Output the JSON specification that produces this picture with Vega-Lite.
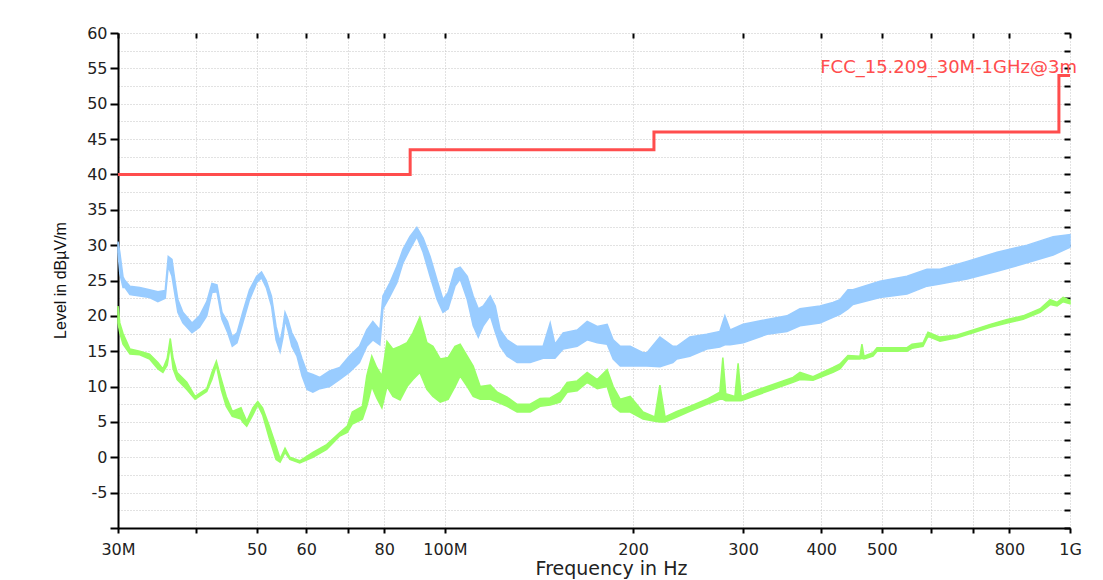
{
  "$schema": "https://vega.github.io/schema/vega-lite/v6.json",
  "width": 952,
  "height": 495,
  "autosize": "none",
  "padding": {"left": 118, "top": 33, "right": 33, "bottom": 52},
  "background": "white",
  "config": {"view": {"stroke": null}, "font": "DejaVu Sans"},
  "datasets": {
    "peak": [
      {"f": 30, "lo": 29, "hi": 30.5}, {"f": 30.2, "lo": 26, "hi": 29}, {"f": 30.56, "lo": 24, "hi": 25.5},
      {"f": 30.78, "lo": 24, "hi": 25}, {"f": 31.35, "lo": 23, "hi": 24.2}, {"f": 32.5, "lo": 22.8, "hi": 24},
      {"f": 33.7, "lo": 22.6, "hi": 23.7}, {"f": 34.75, "lo": 22, "hi": 23.4}, {"f": 35.7, "lo": 22.5, "hi": 23.6},
      {"f": 36.1, "lo": 27, "hi": 28.4}, {"f": 36.6, "lo": 25.6, "hi": 28}, {"f": 37.0, "lo": 23, "hi": 25},
      {"f": 37.4, "lo": 20.5, "hi": 22.3}, {"f": 38.1, "lo": 19, "hi": 20.5}, {"f": 39.4, "lo": 17.6, "hi": 19},
      {"f": 40.5, "lo": 18.4, "hi": 20}, {"f": 41.6, "lo": 20, "hi": 22}, {"f": 42.4, "lo": 23.3, "hi": 24.6},
      {"f": 43.2, "lo": 23.4, "hi": 24.4}, {"f": 44.0, "lo": 19.5, "hi": 20.5}, {"f": 44.9, "lo": 17.7, "hi": 19.2},
      {"f": 45.7, "lo": 15.7, "hi": 17}, {"f": 46.5, "lo": 16.2, "hi": 17.6}, {"f": 47.5, "lo": 19, "hi": 20.5},
      {"f": 48.7, "lo": 22.3, "hi": 23.7}, {"f": 50.0, "lo": 24.7, "hi": 25.6}, {"f": 50.9, "lo": 25.4, "hi": 26.2},
      {"f": 51.8, "lo": 24, "hi": 25}, {"f": 52.8, "lo": 21.4, "hi": 22.8}, {"f": 53.7, "lo": 16.6, "hi": 18.5},
      {"f": 54.5, "lo": 14.9, "hi": 16.3}, {"f": 55.1, "lo": 17, "hi": 18.5}, {"f": 55.5, "lo": 19.5, "hi": 20.5},
      {"f": 56.1, "lo": 18, "hi": 19.5}, {"f": 56.9, "lo": 15.7, "hi": 17.6}, {"f": 58.0, "lo": 14.3, "hi": 16.2},
      {"f": 59.1, "lo": 11.5, "hi": 13.9}, {"f": 60.2, "lo": 9.6, "hi": 12}, {"f": 61.5, "lo": 9.2, "hi": 11.7},
      {"f": 63.1, "lo": 9.7, "hi": 11.3}, {"f": 65.4, "lo": 10, "hi": 12.2}, {"f": 67.9, "lo": 11, "hi": 12.7},
      {"f": 70.3, "lo": 12, "hi": 14.3}, {"f": 73.0, "lo": 13.4, "hi": 15.7}, {"f": 75.0, "lo": 15.7, "hi": 18},
      {"f": 76.7, "lo": 16.6, "hi": 19.2}, {"f": 78.7, "lo": 15.9, "hi": 18}, {"f": 79.6, "lo": 21, "hi": 22.8},
      {"f": 81.7, "lo": 22.8, "hi": 24.7}, {"f": 83.8, "lo": 24.7, "hi": 27}, {"f": 85.7, "lo": 27.5, "hi": 29.4},
      {"f": 87.9, "lo": 29.4, "hi": 31.2}, {"f": 90.2, "lo": 31.2, "hi": 32.5}, {"f": 92.3, "lo": 29, "hi": 31},
      {"f": 94.7, "lo": 25.6, "hi": 28.4}, {"f": 97.2, "lo": 22.3, "hi": 25}, {"f": 99.3, "lo": 20.5, "hi": 22.3},
      {"f": 101.2, "lo": 21, "hi": 23.3}, {"f": 103.8, "lo": 24.2, "hi": 26.6}, {"f": 105.8, "lo": 25.2, "hi": 26.9},
      {"f": 108.6, "lo": 22.3, "hi": 25.6}, {"f": 111.0, "lo": 18.6, "hi": 22.8}, {"f": 113.1, "lo": 17, "hi": 21},
      {"f": 115.2, "lo": 18.6, "hi": 21.4}, {"f": 118.2, "lo": 20, "hi": 22.8}, {"f": 120.4, "lo": 17.7, "hi": 21.4},
      {"f": 122.6, "lo": 15.7, "hi": 18}, {"f": 125.8, "lo": 14.3, "hi": 16.6}, {"f": 130.5, "lo": 13.4, "hi": 15.7},
      {"f": 136.9, "lo": 13.4, "hi": 15.7}, {"f": 143.6, "lo": 14, "hi": 15.7}, {"f": 147.4, "lo": 14, "hi": 19},
      {"f": 150.0, "lo": 14, "hi": 16}, {"f": 154.6, "lo": 15.3, "hi": 17.6}, {"f": 162.8, "lo": 15.7, "hi": 18},
      {"f": 168.9, "lo": 16.6, "hi": 19.2}, {"f": 175.3, "lo": 16.2, "hi": 18.5}, {"f": 181.8, "lo": 16, "hi": 18.8},
      {"f": 185.9, "lo": 13.9, "hi": 16.6}, {"f": 190.8, "lo": 12.9, "hi": 15.7}, {"f": 197.9, "lo": 12.9, "hi": 15.7},
      {"f": 207.5, "lo": 12.9, "hi": 14.8}, {"f": 210.5, "lo": 12.9, "hi": 14.8}, {"f": 220.8, "lo": 12.8, "hi": 17},
      {"f": 231.6, "lo": 13.4, "hi": 15.7}, {"f": 235.0, "lo": 13.9, "hi": 15.7}, {"f": 246.5, "lo": 14.3, "hi": 17},
      {"f": 262.4, "lo": 15.3, "hi": 17.4}, {"f": 275.3, "lo": 15.6, "hi": 17.8}, {"f": 280.5, "lo": 15.9, "hi": 20},
      {"f": 286.0, "lo": 15.9, "hi": 18}, {"f": 300, "lo": 16.2, "hi": 18.8}, {"f": 327.7, "lo": 17.4, "hi": 19.5},
      {"f": 352.6, "lo": 17.8, "hi": 20}, {"f": 369.9, "lo": 18.6, "hi": 21}, {"f": 398.2, "lo": 19, "hi": 21.4},
      {"f": 417.7, "lo": 19.8, "hi": 21.9}, {"f": 428.6, "lo": 20.2, "hi": 22.3}, {"f": 441.4, "lo": 21, "hi": 23.7},
      {"f": 449.5, "lo": 21.6, "hi": 23.7}, {"f": 496.6, "lo": 22.6, "hi": 24.9}, {"f": 548.6, "lo": 23.1, "hi": 25.6},
      {"f": 590.5, "lo": 24.2, "hi": 26.6}, {"f": 619.5, "lo": 24.5, "hi": 26.6}, {"f": 684.5, "lo": 25.2, "hi": 27.7},
      {"f": 764.6, "lo": 26.3, "hi": 29}, {"f": 853.9, "lo": 27.5, "hi": 30}, {"f": 939.8, "lo": 28.6, "hi": 31.2},
      {"f": 1000, "lo": 29.7, "hi": 31.5}
    ],
    "avg": [
      {"f": 30, "lo": 19, "hi": 21.4}, {"f": 30.2, "lo": 17.6, "hi": 19}, {"f": 30.56, "lo": 16, "hi": 17.5},
      {"f": 31.35, "lo": 14.6, "hi": 15.3}, {"f": 32.5, "lo": 14.5, "hi": 15}, {"f": 33.7, "lo": 13.9, "hi": 14.6},
      {"f": 34.75, "lo": 12.5, "hi": 13.4}, {"f": 35.4, "lo": 12, "hi": 12.5}, {"f": 35.96, "lo": 13, "hi": 14},
      {"f": 36.37, "lo": 15.7, "hi": 16.8}, {"f": 36.75, "lo": 12.5, "hi": 14}, {"f": 37.3, "lo": 11, "hi": 12},
      {"f": 38.65, "lo": 9.6, "hi": 10.6}, {"f": 39.85, "lo": 8.2, "hi": 8.6}, {"f": 41.6, "lo": 9.3, "hi": 9.7},
      {"f": 42.4, "lo": 11, "hi": 12}, {"f": 43.1, "lo": 13, "hi": 13.6}, {"f": 43.9, "lo": 9.5, "hi": 11},
      {"f": 44.7, "lo": 7.2, "hi": 8.6}, {"f": 45.7, "lo": 5.8, "hi": 6.5}, {"f": 47.2, "lo": 5.4, "hi": 7},
      {"f": 47.5, "lo": 5, "hi": 6.4}, {"f": 48.2, "lo": 4.4, "hi": 5.1}, {"f": 49.3, "lo": 6, "hi": 7},
      {"f": 50.2, "lo": 7.4, "hi": 7.9}, {"f": 51.1, "lo": 6, "hi": 7}, {"f": 52.4, "lo": 2.6, "hi": 4.4},
      {"f": 53.7, "lo": -0.3, "hi": 1.6}, {"f": 54.5, "lo": -0.7, "hi": -0.2}, {"f": 55.5, "lo": 0.7, "hi": 1.3},
      {"f": 56.5, "lo": -0.3, "hi": 0}, {"f": 58.6, "lo": -0.8, "hi": -0.5}, {"f": 61.5, "lo": 0, "hi": 0.7},
      {"f": 64.7, "lo": 1.1, "hi": 1.8}, {"f": 67.9, "lo": 3, "hi": 3.5}, {"f": 69.8, "lo": 3.5, "hi": 4.4},
      {"f": 71.1, "lo": 4.7, "hi": 6.4}, {"f": 73.8, "lo": 5.4, "hi": 7.2}, {"f": 75.0, "lo": 7.2, "hi": 11.5},
      {"f": 76.4, "lo": 10, "hi": 14.3}, {"f": 77.8, "lo": 8.4, "hi": 12.7}, {"f": 79.3, "lo": 7, "hi": 11.5},
      {"f": 80.8, "lo": 10, "hi": 16.4}, {"f": 82.6, "lo": 8.6, "hi": 15.3}, {"f": 84.8, "lo": 8.1, "hi": 15.7},
      {"f": 87.0, "lo": 10, "hi": 16.2}, {"f": 88.9, "lo": 11, "hi": 17.6}, {"f": 91.2, "lo": 12, "hi": 19.8},
      {"f": 93.6, "lo": 9.6, "hi": 16.2}, {"f": 95.7, "lo": 8.6, "hi": 15.7}, {"f": 98.3, "lo": 7.8, "hi": 13.9},
      {"f": 101.2, "lo": 8.2, "hi": 14.1}, {"f": 103.8, "lo": 10, "hi": 15.7}, {"f": 105.8, "lo": 11.5, "hi": 16},
      {"f": 108.6, "lo": 10, "hi": 14.3}, {"f": 111.0, "lo": 8.6, "hi": 12.9}, {"f": 113.9, "lo": 8.2, "hi": 10},
      {"f": 118.2, "lo": 8.2, "hi": 10.2}, {"f": 121.3, "lo": 7.8, "hi": 9.2}, {"f": 125.8, "lo": 7.2, "hi": 8.5},
      {"f": 130.5, "lo": 6.4, "hi": 7.5}, {"f": 136.9, "lo": 6.4, "hi": 7.5}, {"f": 142.0, "lo": 7.2, "hi": 8.3},
      {"f": 147.4, "lo": 7.4, "hi": 8.4}, {"f": 152.9, "lo": 7.8, "hi": 9.2}, {"f": 156.9, "lo": 9.2, "hi": 10.6},
      {"f": 162.8, "lo": 9.4, "hi": 10.8}, {"f": 168.9, "lo": 10.6, "hi": 12}, {"f": 175.3, "lo": 9.7, "hi": 11},
      {"f": 181.8, "lo": 10, "hi": 12.4}, {"f": 185.9, "lo": 7.2, "hi": 10}, {"f": 190.8, "lo": 6.4, "hi": 8.2},
      {"f": 197.9, "lo": 6.4, "hi": 8.6}, {"f": 207.5, "lo": 5.4, "hi": 6.4}, {"f": 216.7, "lo": 5.1, "hi": 5.7},
      {"f": 220.8, "lo": 5, "hi": 10.2}, {"f": 225.0, "lo": 5, "hi": 5.7}, {"f": 235.0, "lo": 5.7, "hi": 6.5},
      {"f": 246.5, "lo": 6.5, "hi": 7.2}, {"f": 262.4, "lo": 7.5, "hi": 8.2}, {"f": 275.3, "lo": 8.2, "hi": 9.2},
      {"f": 278.4, "lo": 8.2, "hi": 14.1}, {"f": 281.4, "lo": 8, "hi": 9}, {"f": 291.0, "lo": 8, "hi": 8.6},
      {"f": 294.5, "lo": 8, "hi": 13.3}, {"f": 297.8, "lo": 8, "hi": 8.6}, {"f": 311.2, "lo": 8.6, "hi": 9.3},
      {"f": 334.9, "lo": 9.6, "hi": 10.3}, {"f": 360.5, "lo": 10.6, "hi": 11.3}, {"f": 369.9, "lo": 11, "hi": 12},
      {"f": 388.1, "lo": 10.9, "hi": 11.4}, {"f": 417.7, "lo": 12, "hi": 12.7}, {"f": 428.6, "lo": 12.5, "hi": 13.2},
      {"f": 441.4, "lo": 13.9, "hi": 14.4}, {"f": 461.3, "lo": 13.9, "hi": 14.3}, {"f": 464.7, "lo": 14, "hi": 16},
      {"f": 468.2, "lo": 13.9, "hi": 14.3}, {"f": 484.0, "lo": 14.3, "hi": 14.8}, {"f": 491.2, "lo": 15, "hi": 15.5},
      {"f": 548.6, "lo": 15, "hi": 15.5}, {"f": 558.8, "lo": 15.4, "hi": 16}, {"f": 581.9, "lo": 15.7, "hi": 16.2},
      {"f": 592.7, "lo": 17.1, "hi": 17.7}, {"f": 619.5, "lo": 16.4, "hi": 17}, {"f": 659.8, "lo": 16.9, "hi": 17.3},
      {"f": 699.8, "lo": 17.6, "hi": 18}, {"f": 745.2, "lo": 18.4, "hi": 18.8}, {"f": 793.3, "lo": 19, "hi": 19.5},
      {"f": 841.4, "lo": 19.5, "hi": 20}, {"f": 895.8, "lo": 20.5, "hi": 21}, {"f": 929.5, "lo": 21.6, "hi": 22.3},
      {"f": 953.7, "lo": 21.4, "hi": 21.9}, {"f": 975.0, "lo": 22, "hi": 22.6}, {"f": 1000, "lo": 21.7, "hi": 22.2}
    ],
    "limit": [
      {"f": 30, "v": 40}, {"f": 88, "v": 43.5}, {"f": 216, "v": 46}, {"f": 960, "v": 54}, {"f": 1000, "v": 54}
    ],
    "limitLabel": [
      {"f": 1000, "v": 55, "label": "FCC_15.209_30M-1GHz@3m"}
    ]
  },
  "resolve": {"axis": {"x": "independent", "y": "independent"}},
  "layer": [
    {
      "data": {"name": "peak"},
      "mark": {"type": "area", "color": "#99ccff", "stroke": "#99ccff", "strokeWidth": 1.5, "opacity": 1},
      "encoding": {
        "x": {
          "field": "f", "type": "quantitative",
          "scale": {"type": "log", "domain": [30, 1000], "nice": false},
          "axis": {
            "values": [30, 40, 50, 60, 70, 80, 100, 200, 300, 400, 500, 600, 700, 800, 1000],
            "labelExpr": "datum.value == 30 ? '30M' : datum.value == 100 ? '100M' : datum.value == 1000 ? '1G' : (datum.value == 40 || datum.value == 70 || datum.value == 600 || datum.value == 700) ? '' : '' + datum.value",
            "labelOverlap": false, "labelFlush": false,
            "labelFont": "DejaVu Sans", "labelFontSize": 16, "labelColor": "#222222", "labelPadding": 8,
            "tickSize": 5, "tickWidth": 2, "tickColor": "#000000",
            "domainColor": "#000000", "domainWidth": 2,
            "grid": false,
            "title": "Frequency in Hz",
            "titleFont": "DejaVu Sans", "titleFontSize": 19, "titleFontWeight": "normal", "titleColor": "#222222",
            "titleX": 493, "titleY": 46, "titleBaseline": "alphabetic", "titleAlign": "center"
          }
        },
        "y": {
          "field": "lo", "type": "quantitative",
          "scale": {"domain": [-10, 60], "nice": false, "zero": false},
          "axis": {
            "values": [-10, -5, 0, 5, 10, 15, 20, 25, 30, 35, 40, 45, 50, 55, 60],
            "labelExpr": "datum.value == -10 ? '' : '' + datum.value",
            "labelOverlap": false, "labelFlush": false,
            "labelFont": "DejaVu Sans", "labelFontSize": 16, "labelColor": "#222222", "labelPadding": 3,
            "tickSize": 8, "tickWidth": 2, "tickColor": "#000000",
            "domainColor": "#000000", "domainWidth": 2,
            "grid": false,
            "title": "Level in dBµV/m",
            "titleFont": "Liberation Sans", "titleFontSize": 16, "titleFontWeight": "normal", "titleColor": "#111111",
            "titleX": -58, "titleY": 247, "titleBaseline": "middle", "titleAlign": "center", "titleAngle": -90
          }
        },
        "y2": {"field": "hi"}
      }
    },
    {
      "data": {"name": "avg"},
      "mark": {"type": "area", "color": "#99ff66", "stroke": "#99ff66", "strokeWidth": 1.5, "opacity": 1},
      "encoding": {
        "x": {
          "field": "f", "type": "quantitative",
          "scale": {"type": "log", "domain": [30, 1000], "nice": false},
          "axis": {
            "values": [30, 40, 50, 60, 70, 80, 100, 200, 300, 400, 500, 600, 700, 800, 1000],
            "labels": false, "domain": false, "title": null,
            "tickSize": -5, "tickWidth": 2, "tickColor": "#000000",
            "grid": true, "gridColor": "#c4c4c4", "gridDash": [1, 2], "gridWidth": 1
          }
        },
        "y": {
          "field": "lo", "type": "quantitative",
          "scale": {"domain": [-10, 60], "nice": false, "zero": false},
          "axis": {
            "values": [-10, -7.5, -5, -2.5, 0, 2.5, 5, 7.5, 10, 12.5, 15, 17.5, 20, 22.5, 25, 27.5, 30, 32.5, 35, 37.5, 40, 42.5, 45, 47.5, 50, 52.5, 55, 57.5, 60],
            "labels": false, "domain": false, "title": null,
            "tickSize": -6, "tickWidth": 2, "tickColor": "#000000",
            "grid": true, "gridColor": "#c4c4c4", "gridDash": [1, 2], "gridWidth": 1
          }
        },
        "y2": {"field": "hi"}
      }
    },
    {
      "data": {"name": "limit"},
      "mark": {"type": "line", "color": "#ff4d4d", "strokeWidth": 3, "interpolate": "step-after"},
      "encoding": {
        "x": {"field": "f", "type": "quantitative", "scale": {"type": "log", "domain": [30, 1000], "nice": false}, "axis": null},
        "y": {"field": "v", "type": "quantitative", "scale": {"domain": [-10, 60], "nice": false, "zero": false}, "axis": null}
      }
    },
    {
      "data": {"name": "limitLabel"},
      "mark": {"type": "text", "color": "#ff4d4d", "font": "DejaVu Sans", "fontSize": 18, "align": "right", "baseline": "middle", "dx": 7},
      "encoding": {
        "x": {"field": "f", "type": "quantitative", "scale": {"type": "log", "domain": [30, 1000], "nice": false}, "axis": null},
        "y": {"field": "v", "type": "quantitative", "scale": {"domain": [-10, 60], "nice": false, "zero": false}, "axis": null},
        "text": {"field": "label"}
      }
    }
  ]
}
